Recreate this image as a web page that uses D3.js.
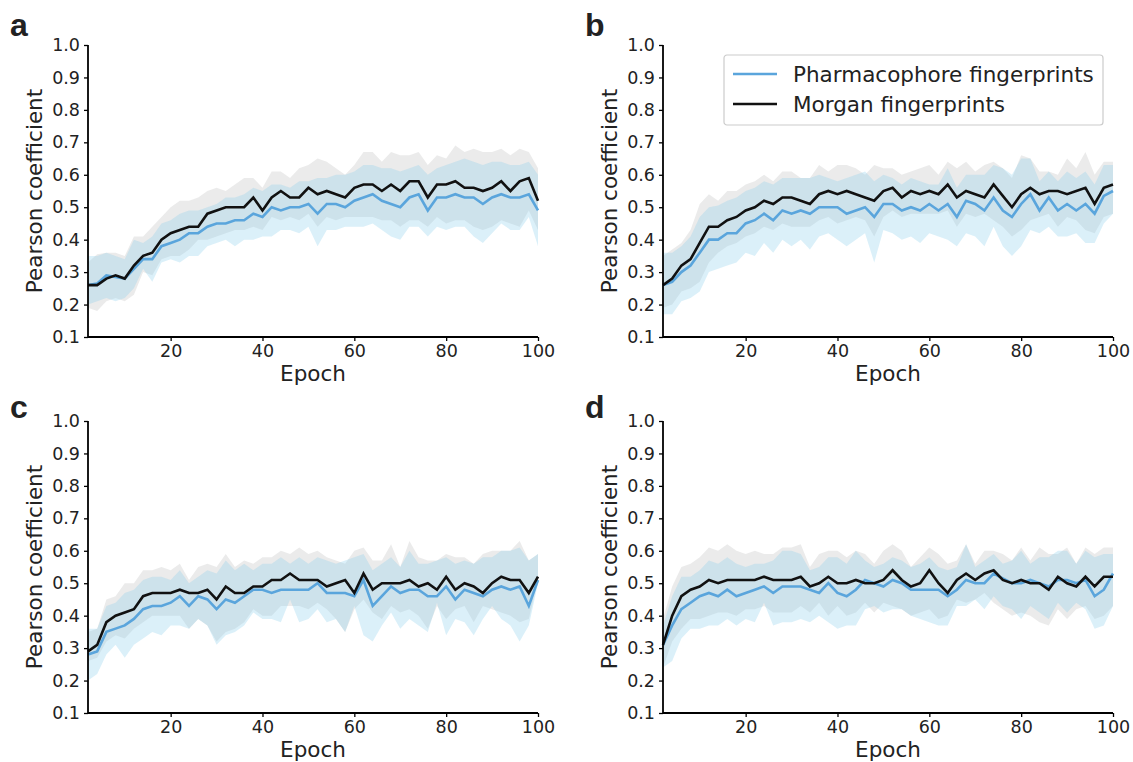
<!DOCTYPE html>
<html><head><meta charset="utf-8">
<script src="https://cdn.jsdelivr.net/npm/d3@7"></script>
<style>
body{margin:0;background:#fff;}
svg text{font-family:"DejaVu Sans",sans-serif;fill:#222;}
</style></head>
<body><svg id="c" width="1133" height="762"></svg>
<script>
const epochs = [2,4,6,8,10,12,14,16,18,20,22,24,26,28,30,32,34,36,38,40,42,44,46,48,50,52,54,56,58,60,62,64,66,68,70,72,74,76,78,80,82,84,86,88,90,92,94,96,98,100];
const yTicks = [0.1,0.2,0.3,0.4,0.5,0.6,0.7,0.8,0.9,1.0];
const xTicks = [20,40,60,80,100];
const seriesNames = ["Pharmacophore fingerprints","Morgan fingerprints"];
const panelLetters = ["a","b","c","d"];

// Panel a
const aMorganMean = [0.26,0.26,0.28,0.29,0.28,0.32,0.35,0.36,0.40,0.42,0.43,0.44,0.44,0.48,0.49,0.50,0.50,0.50,0.53,0.49,0.53,0.55,0.53,0.53,0.56,0.54,0.55,0.54,0.53,0.56,0.57,0.57,0.55,0.57,0.55,0.58,0.58,0.53,0.57,0.57,0.58,0.56,0.56,0.55,0.56,0.58,0.55,0.58,0.59,0.52];
const aMorganHi = [0.33,0.355,0.36,0.36,0.35,0.41,0.41,0.44,0.47,0.50,0.52,0.52,0.53,0.55,0.56,0.55,0.57,0.59,0.59,0.56,0.61,0.61,0.59,0.62,0.63,0.65,0.64,0.62,0.60,0.63,0.67,0.67,0.64,0.67,0.66,0.66,0.67,0.63,0.66,0.65,0.69,0.67,0.68,0.67,0.67,0.68,0.66,0.68,0.67,0.62];
const aMorganLo = [0.19,0.18,0.21,0.22,0.21,0.23,0.30,0.29,0.34,0.35,0.35,0.37,0.40,0.40,0.41,0.42,0.43,0.43,0.44,0.43,0.47,0.46,0.47,0.46,0.48,0.44,0.47,0.46,0.47,0.47,0.47,0.47,0.46,0.46,0.44,0.46,0.46,0.44,0.47,0.45,0.46,0.46,0.44,0.43,0.44,0.46,0.45,0.44,0.49,0.43];
const aPharmMean = [0.26,0.265,0.29,0.285,0.28,0.31,0.34,0.34,0.38,0.39,0.40,0.42,0.42,0.44,0.45,0.45,0.46,0.46,0.48,0.47,0.50,0.49,0.50,0.50,0.51,0.48,0.51,0.51,0.50,0.52,0.53,0.54,0.52,0.51,0.50,0.53,0.54,0.49,0.53,0.53,0.54,0.53,0.53,0.51,0.53,0.54,0.53,0.53,0.54,0.49];
const aPharmHi = [0.35,0.35,0.36,0.35,0.34,0.40,0.39,0.41,0.45,0.46,0.48,0.49,0.49,0.50,0.51,0.53,0.53,0.54,0.56,0.55,0.57,0.57,0.56,0.58,0.58,0.59,0.59,0.60,0.60,0.61,0.63,0.63,0.62,0.62,0.61,0.62,0.63,0.60,0.62,0.63,0.64,0.65,0.64,0.63,0.64,0.64,0.63,0.63,0.64,0.60];
const aPharmLo = [0.20,0.21,0.22,0.21,0.22,0.25,0.31,0.27,0.33,0.34,0.33,0.35,0.35,0.38,0.39,0.40,0.38,0.40,0.40,0.41,0.41,0.43,0.43,0.42,0.44,0.38,0.43,0.43,0.44,0.44,0.44,0.45,0.43,0.41,0.40,0.44,0.44,0.41,0.44,0.43,0.44,0.44,0.41,0.39,0.42,0.45,0.43,0.43,0.47,0.38];

// Panel b
const bMorganMean = [0.26,0.28,0.32,0.34,0.39,0.44,0.44,0.46,0.47,0.49,0.50,0.52,0.51,0.53,0.53,0.52,0.51,0.54,0.55,0.54,0.55,0.54,0.53,0.52,0.55,0.56,0.53,0.55,0.54,0.55,0.54,0.57,0.53,0.55,0.54,0.53,0.57,0.535,0.50,0.54,0.56,0.54,0.55,0.55,0.54,0.55,0.56,0.51,0.56,0.57];
const bMorganHi = [0.35,0.37,0.39,0.43,0.51,0.54,0.52,0.55,0.55,0.57,0.58,0.60,0.58,0.61,0.61,0.59,0.59,0.63,0.61,0.63,0.63,0.62,0.60,0.63,0.62,0.62,0.60,0.61,0.62,0.63,0.60,0.64,0.62,0.64,0.61,0.63,0.64,0.62,0.59,0.66,0.65,0.61,0.61,0.60,0.65,0.62,0.67,0.60,0.64,0.64];
const bMorganLo = [0.19,0.20,0.24,0.25,0.27,0.33,0.36,0.38,0.39,0.41,0.42,0.44,0.43,0.45,0.44,0.44,0.44,0.46,0.47,0.45,0.46,0.47,0.46,0.41,0.47,0.49,0.47,0.48,0.48,0.48,0.48,0.49,0.44,0.48,0.47,0.48,0.46,0.44,0.41,0.43,0.46,0.47,0.48,0.44,0.47,0.46,0.43,0.42,0.47,0.48];
const bPharmMean = [0.26,0.27,0.30,0.32,0.36,0.40,0.40,0.42,0.42,0.45,0.46,0.48,0.46,0.49,0.48,0.49,0.48,0.50,0.50,0.50,0.48,0.49,0.50,0.47,0.51,0.51,0.49,0.50,0.49,0.51,0.49,0.51,0.47,0.52,0.51,0.49,0.53,0.49,0.47,0.51,0.54,0.49,0.53,0.49,0.51,0.49,0.51,0.48,0.535,0.55];
const bPharmHi = [0.36,0.36,0.38,0.41,0.47,0.50,0.505,0.52,0.53,0.55,0.56,0.58,0.57,0.59,0.59,0.59,0.59,0.60,0.59,0.58,0.59,0.60,0.61,0.58,0.60,0.59,0.57,0.59,0.58,0.57,0.57,0.62,0.56,0.60,0.60,0.60,0.63,0.62,0.60,0.65,0.65,0.58,0.61,0.58,0.61,0.59,0.61,0.57,0.63,0.63];
const bPharmLo = [0.17,0.17,0.21,0.22,0.24,0.30,0.31,0.32,0.33,0.36,0.35,0.39,0.36,0.40,0.38,0.40,0.37,0.41,0.42,0.40,0.38,0.40,0.42,0.33,0.43,0.42,0.40,0.41,0.39,0.42,0.41,0.40,0.38,0.42,0.41,0.38,0.44,0.38,0.35,0.38,0.43,0.42,0.44,0.41,0.41,0.42,0.39,0.39,0.45,0.48];

// Panel c
const cMorganMean = [0.29,0.31,0.38,0.40,0.41,0.42,0.46,0.47,0.47,0.47,0.48,0.47,0.47,0.48,0.45,0.49,0.47,0.47,0.49,0.49,0.51,0.51,0.53,0.51,0.51,0.51,0.49,0.50,0.51,0.47,0.53,0.48,0.50,0.50,0.50,0.51,0.49,0.50,0.48,0.52,0.48,0.50,0.49,0.47,0.50,0.52,0.51,0.51,0.47,0.52];
const cMorganHi = [0.35,0.36,0.45,0.46,0.50,0.50,0.54,0.54,0.55,0.54,0.56,0.51,0.55,0.56,0.55,0.59,0.55,0.57,0.56,0.58,0.58,0.60,0.59,0.61,0.59,0.60,0.58,0.57,0.56,0.60,0.61,0.57,0.57,0.62,0.55,0.63,0.58,0.57,0.57,0.59,0.58,0.58,0.56,0.59,0.60,0.60,0.60,0.63,0.57,0.59];
const cMorganLo = [0.26,0.27,0.32,0.34,0.33,0.36,0.38,0.40,0.40,0.40,0.40,0.36,0.39,0.37,0.32,0.35,0.36,0.38,0.42,0.40,0.40,0.43,0.43,0.43,0.42,0.44,0.42,0.39,0.35,0.42,0.45,0.41,0.39,0.43,0.41,0.42,0.40,0.36,0.43,0.39,0.42,0.43,0.38,0.43,0.42,0.41,0.40,0.38,0.39,0.51];
const cPharmMean = [0.28,0.29,0.35,0.36,0.37,0.39,0.42,0.43,0.43,0.44,0.46,0.43,0.46,0.45,0.42,0.45,0.44,0.46,0.48,0.48,0.47,0.48,0.48,0.48,0.48,0.50,0.47,0.47,0.47,0.46,0.51,0.43,0.46,0.49,0.47,0.48,0.48,0.46,0.46,0.49,0.45,0.48,0.47,0.46,0.48,0.49,0.48,0.49,0.43,0.51];
const cPharmHi = [0.36,0.36,0.43,0.44,0.47,0.48,0.51,0.52,0.52,0.51,0.54,0.50,0.52,0.54,0.53,0.57,0.54,0.56,0.54,0.56,0.56,0.58,0.56,0.58,0.56,0.58,0.57,0.56,0.57,0.58,0.59,0.54,0.56,0.58,0.55,0.60,0.56,0.56,0.57,0.58,0.56,0.57,0.56,0.58,0.58,0.60,0.60,0.61,0.57,0.59];
const cPharmLo = [0.20,0.22,0.28,0.31,0.27,0.31,0.33,0.35,0.34,0.37,0.37,0.36,0.39,0.37,0.31,0.34,0.35,0.37,0.41,0.39,0.39,0.38,0.45,0.38,0.39,0.42,0.38,0.39,0.35,0.43,0.34,0.32,0.37,0.41,0.36,0.39,0.37,0.35,0.44,0.34,0.39,0.38,0.34,0.39,0.43,0.39,0.37,0.32,0.37,0.50];

// Panel d
const dMorganMean = [0.31,0.40,0.46,0.48,0.49,0.51,0.50,0.51,0.51,0.51,0.51,0.52,0.51,0.51,0.51,0.52,0.49,0.50,0.52,0.50,0.50,0.51,0.50,0.50,0.51,0.54,0.51,0.49,0.50,0.54,0.50,0.47,0.51,0.53,0.51,0.53,0.54,0.51,0.50,0.51,0.50,0.50,0.48,0.52,0.50,0.49,0.52,0.49,0.52,0.52];
const dMorganHi = [0.39,0.49,0.55,0.56,0.58,0.61,0.60,0.62,0.60,0.59,0.60,0.59,0.59,0.61,0.61,0.62,0.55,0.59,0.60,0.60,0.58,0.60,0.59,0.56,0.60,0.62,0.60,0.55,0.58,0.61,0.59,0.56,0.57,0.62,0.56,0.60,0.60,0.59,0.57,0.61,0.57,0.61,0.59,0.59,0.61,0.56,0.61,0.59,0.61,0.61];
const dMorganLo = [0.24,0.32,0.36,0.39,0.39,0.40,0.41,0.41,0.40,0.42,0.42,0.43,0.41,0.41,0.41,0.43,0.41,0.44,0.40,0.43,0.40,0.41,0.44,0.41,0.44,0.43,0.42,0.40,0.41,0.42,0.39,0.40,0.45,0.44,0.45,0.47,0.44,0.42,0.40,0.41,0.40,0.38,0.37,0.42,0.39,0.42,0.43,0.39,0.40,0.43];
const dPharmMean = [0.31,0.37,0.42,0.44,0.46,0.47,0.46,0.48,0.46,0.47,0.48,0.49,0.47,0.49,0.49,0.49,0.48,0.47,0.50,0.47,0.46,0.48,0.51,0.50,0.49,0.51,0.50,0.48,0.48,0.48,0.48,0.46,0.48,0.51,0.50,0.50,0.53,0.515,0.50,0.50,0.51,0.50,0.49,0.51,0.51,0.50,0.51,0.46,0.48,0.53];
const dPharmHi = [0.37,0.46,0.52,0.52,0.54,0.57,0.56,0.58,0.56,0.55,0.56,0.56,0.57,0.60,0.60,0.59,0.54,0.55,0.58,0.58,0.56,0.60,0.57,0.55,0.56,0.58,0.57,0.55,0.56,0.58,0.55,0.54,0.55,0.62,0.55,0.57,0.59,0.56,0.57,0.60,0.56,0.58,0.58,0.60,0.60,0.56,0.60,0.58,0.59,0.59];
const dPharmLo = [0.24,0.26,0.33,0.36,0.36,0.37,0.37,0.39,0.37,0.39,0.38,0.44,0.37,0.38,0.38,0.39,0.38,0.40,0.38,0.36,0.37,0.37,0.42,0.43,0.41,0.42,0.42,0.40,0.39,0.38,0.37,0.37,0.43,0.43,0.45,0.42,0.46,0.43,0.42,0.39,0.43,0.41,0.39,0.44,0.41,0.44,0.42,0.36,0.37,0.43];

const panels = [
  {letter:"a", left:88, top:45, morgan:[aMorganMean,aMorganLo,aMorganHi], pharm:[aPharmMean,aPharmLo,aPharmHi], legend:false, letterX:10, letterY:36},
  {letter:"b", left:663, top:45, morgan:[bMorganMean,bMorganLo,bMorganHi], pharm:[bPharmMean,bPharmLo,bPharmHi], legend:true, letterX:585, letterY:36},
  {letter:"c", left:88, top:421, morgan:[cMorganMean,cMorganLo,cMorganHi], pharm:[cPharmMean,cPharmLo,cPharmHi], legend:false, letterX:10, letterY:418},
  {letter:"d", left:663, top:421, morgan:[dMorganMean,dMorganLo,dMorganHi], pharm:[dPharmMean,dPharmLo,dPharmHi], legend:false, letterX:585, letterY:418}
];
const W = 450, H = 292;
const blue = "#5aa5dc", black = "#111111";
const svg = d3.select("#c");

panels.forEach(p => {
  const g = svg.append("g").attr("transform", `translate(${p.left},${p.top})`);
  const x = d3.scaleLinear().domain([2,100]).range([0,W]);
  const y = d3.scaleLinear().domain([0.1,1.0]).range([H,0]);
  const area = (lo,hi) => d3.area().x((d,i)=>x(epochs[i])).y0((d,i)=>y(lo[i])).y1((d,i)=>y(hi[i]));
  const line = d3.line().x((d,i)=>x(epochs[i])).y(d=>y(d));

  g.append("path").datum(epochs).attr("d", area(p.morgan[1],p.morgan[2]))
    .attr("fill","#9a9a9a").attr("fill-opacity",0.2);
  g.append("path").datum(epochs).attr("d", area(p.pharm[1],p.pharm[2]))
    .attr("fill","#87ceeb").attr("fill-opacity",0.3);
  g.append("path").datum(p.pharm[0]).attr("d", line)
    .attr("fill","none").attr("stroke",blue).attr("stroke-width",2.6).attr("stroke-linejoin","miter");
  g.append("path").datum(p.morgan[0]).attr("d", line)
    .attr("fill","none").attr("stroke",black).attr("stroke-width",2.6).attr("stroke-linejoin","miter");

  const xa = g.append("g").attr("transform",`translate(0,${H})`)
    .call(d3.axisBottom(x).tickValues(xTicks).tickSize(4).tickPadding(4).tickFormat(d3.format("d")));
  const ya = g.append("g")
    .call(d3.axisLeft(y).tickValues(yTicks).tickSize(4).tickPadding(4).tickFormat(d3.format(".1f")));
  [xa,ya].forEach(a=>{
    a.select(".domain").attr("stroke","#000").attr("stroke-width",1.8).attr("d", a===xa ? `M0,0H${W}` : `M0,0V${H}`);
    a.selectAll(".tick line").attr("stroke","#000").attr("stroke-width",1.3);
    a.selectAll(".tick text").attr("font-size","17.5px").attr("fill","#222").style("font-family","'DejaVu Sans'");
  });

  g.append("text").attr("x",W/2).attr("y",H+44).attr("text-anchor","middle")
    .attr("font-size","21.5px").text("Epoch");
  g.append("text").attr("transform",`translate(-46,${H/2}) rotate(-90)`).attr("text-anchor","middle")
    .attr("font-size","21.5px").text("Pearson coefficient");

  svg.append("text").attr("x",p.letterX).attr("y",p.letterY)
    .style("font-family","'Liberation Sans',Arial,sans-serif").attr("font-weight","bold")
    .attr("font-size","32px").attr("fill","#222").text(p.letter);

  if (p.legend) {
    const lg = svg.append("g").attr("transform","translate(724,55)");
    lg.append("rect").attr("x",0).attr("y",0).attr("width",379).attr("height",70).attr("rx",3)
      .attr("fill","#fff").attr("fill-opacity",0.8).attr("stroke","#cccccc").attr("stroke-width",1.2);
    const colors = [blue, black];
    seriesNames.forEach((n,i)=>{
      const yy = 19 + i*30;
      lg.append("line").attr("x1",9).attr("x2",53).attr("y1",yy).attr("y2",yy)
        .attr("stroke",colors[i]).attr("stroke-width",2.6);
      lg.append("text").attr("x",69).attr("y",yy+7.5).attr("font-size","21.5px").text(n);
    });
  }
});
</script></body></html>
